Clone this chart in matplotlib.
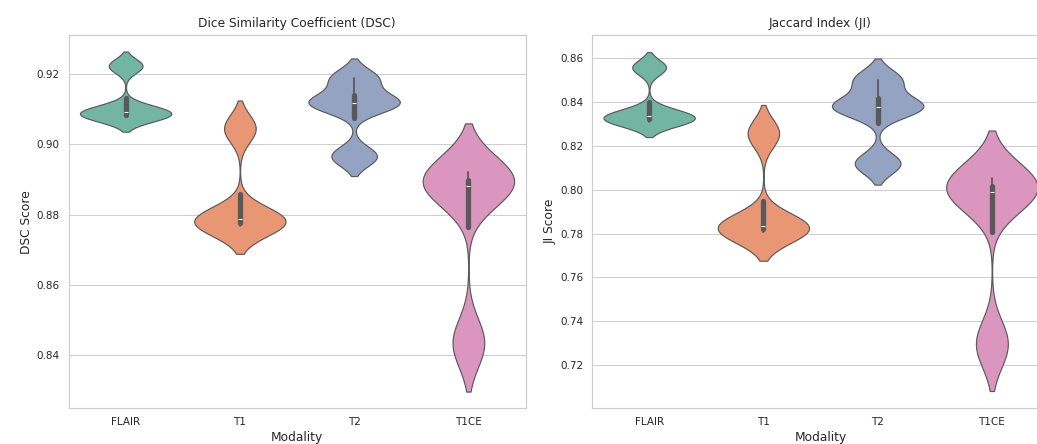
import matplotlib
matplotlib.use("Agg")
import matplotlib.pyplot as plt
import seaborn as sns
import pandas as pd

modalities = ["FLAIR", "T1", "T2", "T1CE"]

dsc_flair = [0.9077, 0.9086, 0.9100, 0.9223]
dsc_t1 = [0.8768, 0.8779, 0.8795, 0.9045]
dsc_t2 = [0.8966, 0.9112, 0.9124, 0.9188]
dsc_t1ce = [0.8435, 0.8873, 0.8891, 0.8921]

ji_flair = [0.8310, 0.8325, 0.8349, 0.8558]
ji_t1 = [0.7806, 0.7823, 0.7847, 0.8257]
ji_t2 = [0.8120, 0.8369, 0.8389, 0.8502]
ji_t1ce = [0.7297, 0.7976, 0.8003, 0.8055]

dsc_lists = [dsc_flair, dsc_t1, dsc_t2, dsc_t1ce]
ji_lists = [ji_flair, ji_t1, ji_t2, ji_t1ce]

rows = []
for m, d, j in zip(modalities, dsc_lists, ji_lists):
    for dv, jv in zip(d, j):
        rows.append({"Modality": m, "DSC": dv, "JI": jv})
df = pd.DataFrame(rows)

sns.set_theme(style="whitegrid")

fig = plt.figure(figsize=(1037 / 68, 444 / 68), dpi=68)
ax1 = fig.add_axes([68.5 / 1037, 35.7 / 444, 457 / 1037, 373.3 / 444])
ax2 = fig.add_axes([592 / 1037, 35.7 / 444, 457 / 1037, 373.3 / 444])

kw = dict(x="Modality", hue="Modality", palette="Set2", legend=False,
          density_norm="width", bw_method=0.3, cut=2, inner="box",
          order=modalities, hue_order=modalities)

label_fs = 13

sns.violinplot(data=df, y="DSC", ax=ax1, **kw)
ax1.set_title("Dice Similarity Coefficient (DSC)", fontsize=label_fs, pad=8.5)
ax1.set_xlabel("Modality", fontsize=label_fs)
ax1.set_ylabel("DSC Score", fontsize=label_fs)
ax1.set_ylim(0.8249, 0.9311)

sns.violinplot(data=df, y="JI", ax=ax2, **kw)
ax2.set_title("Jaccard Index (JI)", fontsize=label_fs, pad=8.5)
ax2.set_xlabel("Modality", fontsize=label_fs)
ax2.set_ylabel("JI Score", fontsize=label_fs)
ax2.set_ylim(0.7003, 0.8706)

fig.savefig("out.png", dpi=68)
